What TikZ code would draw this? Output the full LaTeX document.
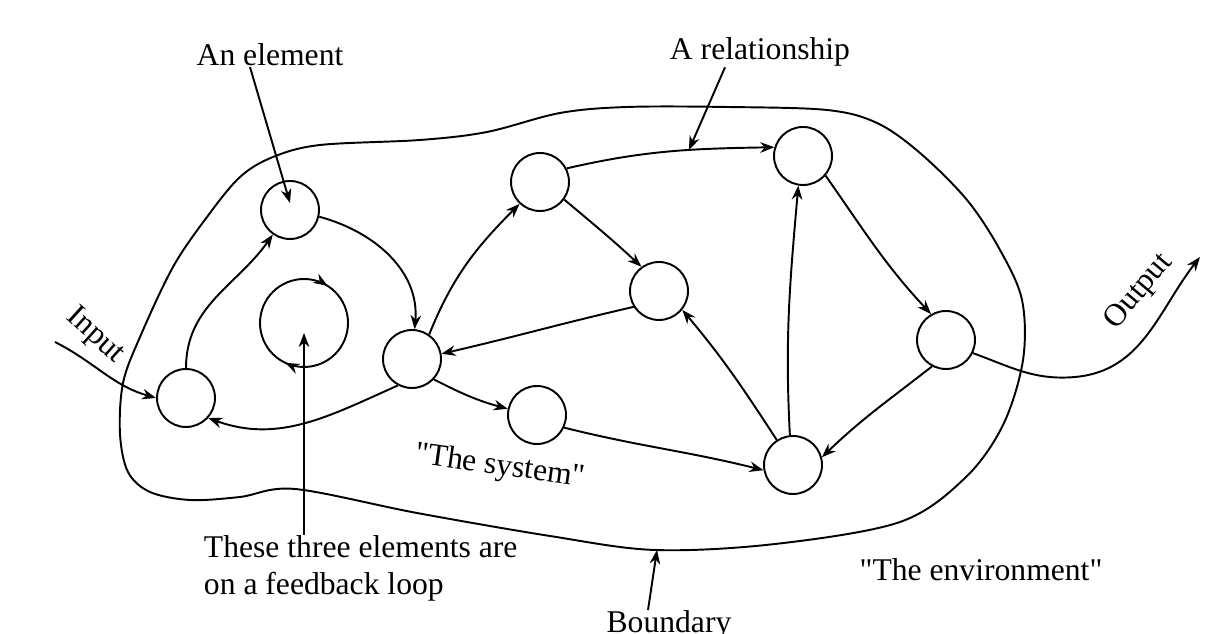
\documentclass[tikz,border=0pt]{standalone}
\usepackage{fontspec}
\setmainfont{Liberation Serif}
\usetikzlibrary{arrows.meta,decorations.markings}

\begin{document}
\begin{tikzpicture}[x=0.02cm, y=0.02cm, line width=1.1pt,
    elem/.style={circle, draw, minimum size=1.16cm, inner sep=0pt},
    arr/.style={-{Stealth[length=8pt,width=6pt]}},
    lbl/.style={font=\fontsize{18}{21}\selectfont, inner sep=0pt}]
    \useasboundingbox (0,0) rectangle (1222,634);
    % the boundary
    \draw plot[smooth cycle, tension=0.55] coordinates {
        (417,121) (550,98) (655,84) (775,90) (900,112) (965,156) (1003,209)
        (1023,274) (1022,334) (1000,384) (967,434) (920,481) (877,511)
        (827,524) (727,527) (627,527) (560,521) (487,502) (420,494)
        (320,489) (273,477) (240,457) (207,417) (173,367) (140,297)
        (123,251) (120,200) (128,162) (150,142) (190,134) (240,137) (295,145)};
    \coordinate (bndpt) at (657,84);
    % elements
    \node[elem] (A) at (186,236) {};
    \node[elem] (B) at (290,424) {};
    \node[elem] (D) at (412,275) {};
    \node[elem] (E) at (540,452) {};
    \node[elem] (F) at (659,343) {};
    \node[elem] (G) at (537,219) {};
    \node[elem] (H) at (803,478) {};
    \node[elem] (I) at (946,294) {};
    \node[elem] (J) at (793,169) {};
    \node[elem, minimum size=1.76cm, postaction={decorate},
        decoration={markings,
            mark=at position 0.16 with {\arrowreversed{Stealth[length=8pt,width=6pt]}},
            mark=at position 0.68 with {\arrowreversed{Stealth[length=8pt,width=6pt]}}}]
        (loop) at (304,311) {};
    % relationships
    \coordinate (inpt) at (55,292);
    \coordinate (dip) at (1075,257);
    \coordinate (outpt) at (1200,377);
    \draw[arr] (inpt) to[out=-27,in=164] (A.180);
    \draw[arr] (A) to[out=90,in=235] (B.235);
    \draw[arr] (B.-13) to[out=-15,in=85] (D.85);
    \draw[arr] (D.242) to[out=-156,in=-20] (A.-42);
    \draw[arr] (D.55) to[out=68,in=225] (E.227);
    \draw[arr] (E.-36) to[out=-40,in=137] (F.126);
    \draw[arr] (F.212) to[out=193,in=13] (D.10);
    \draw[arr] (D.-43) to[out=-27,in=165] (G.168);
    \draw[arr] (G.-25) to[out=-14,in=166] (J.190);
    \draw[arr] (E.27) to[out=13,in=181] coordinate[pos=0.6] (relpt) (H.163);
    \draw[arr] (J.96) to[out=93,in=-95] (H.-99);
    \draw[arr] (J.123) to[out=123,in=-50] (F.-39);
    \draw[arr] (H.-41) to[out=-55,in=133] (I.120);
    \draw[arr] (I.242) to[out=218,in=44] (J.15);
    \draw[arr] (I.-26) to[out=-20,in=185] (dip) to[out=5,in=232] (outpt);
    % labels
    \node[lbl] (elemlbl) at (270,579) {An element};
    \node[lbl] (rellbl) at (760,582) {A relationship};
    \node[lbl, align=left, anchor=north west] (fblbl) at (203,99)
        {These three elements are\\on a feedback loop};
    \node[lbl, rotate=-8] (syslbl) at (500,167) {\textquotedbl The system\textquotedbl};
    \node[lbl] (envlbl) at (981,64) {\textquotedbl The environment\textquotedbl};
    \node[lbl, anchor=north] (bndlbl) at (669,24) {Boundary};
    \node[lbl, rotate=-42] (inlbl) at (95,298) {Input};
    \node[lbl, rotate=50] (outlbl) at (1139,342) {Output};
    % pointers
    \draw[arr] ([xshift=-0.4cm]elemlbl.south) -- ([yshift=0.14cm]B.center);
    \draw[arr] ([xshift=-0.7cm]rellbl.south) -- (relpt);
    \draw[arr] (fblbl.north -| loop) -- ([yshift=-0.2cm]loop.center);
    \draw[arr] ([xshift=-0.42cm]bndlbl.north) -- (bndpt);
\end{tikzpicture}
\end{document}
